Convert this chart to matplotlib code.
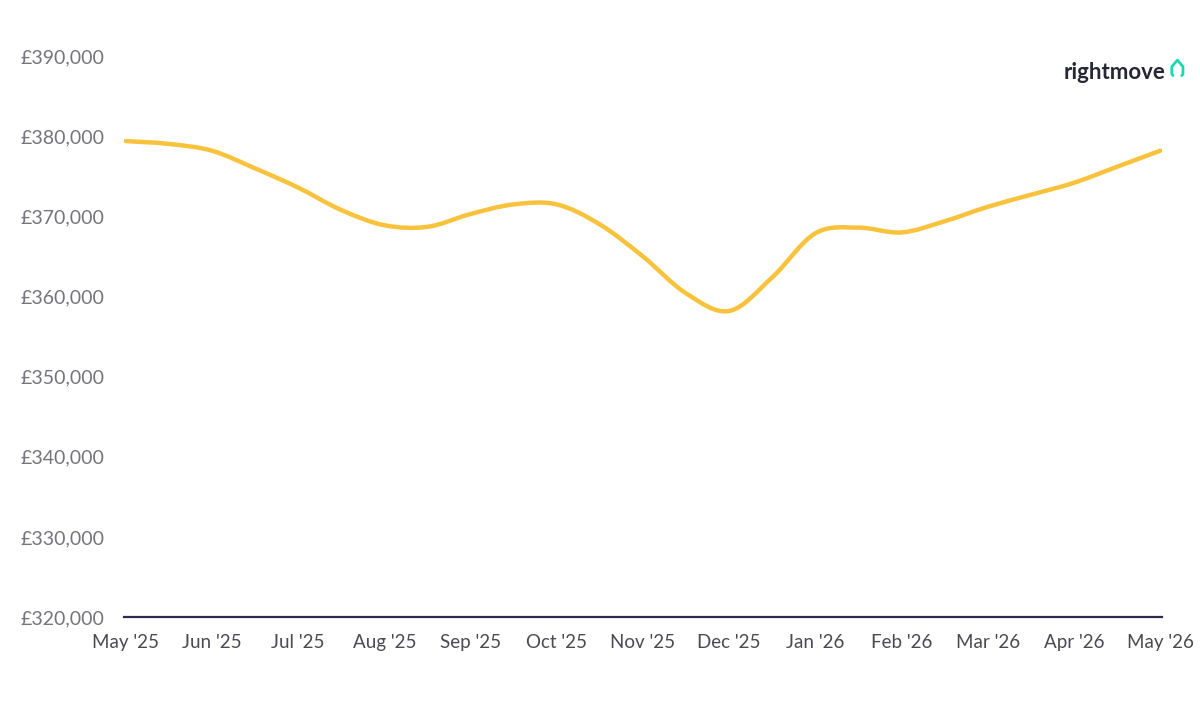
import matplotlib
matplotlib.use('Agg')
import matplotlib.pyplot as plt
import numpy as np
from matplotlib.path import Path
from matplotlib.patches import PathPatch
from matplotlib.lines import Line2D
import matplotlib.ticker as ticker

# Average asking price at half-month steps
month_pos = [0.0, 0.5, 1.0, 1.5, 2.0, 2.5, 3.0, 3.5, 4.0, 4.5, 5.0, 5.5, 6.0,
             6.5, 7.0, 7.5, 8.0, 8.5, 9.0, 9.5, 10.0, 10.5, 11.0, 11.5, 12.0]
prices = [379400, 379050, 378200, 376000, 373600, 370800, 368900, 368700,
          370300, 371500, 371500, 369000, 365000, 360400, 358200, 362400,
          367900, 368600, 368000, 369400, 371200, 372700, 374200, 376200,
          378200]

month_labels = ["May '25", "Jun '25", "Jul '25", "Aug '25", "Sep '25", "Oct '25",
                "Nov '25", "Dec '25", "Jan '26", "Feb '26", "Mar '26", "Apr '26",
                "May '26"]
y_ticks = [320000, 330000, 340000, 350000, 360000, 370000, 380000, 390000]

plt.rcParams['font.family'] = ['Lato', 'DejaVu Sans']

fig = plt.figure(figsize=(12, 7.2), dpi=100)
ax = fig.add_axes([0.1033, 0.143, 0.865, 0.779])

# smooth spline (Catmull-Rom -> cubic Bezier) through the read points
pts = np.column_stack([month_pos, prices]).astype(float)
verts = [pts[0]]
codes = [Path.MOVETO]
n = len(pts)
for i in range(n - 1):
    p0 = pts[i - 1] if i > 0 else pts[i]
    p1 = pts[i]
    p2 = pts[i + 1]
    p3 = pts[i + 2] if i + 2 < n else pts[i + 1]
    verts += [p1 + (p2 - p0) / 6, p2 - (p3 - p1) / 6, p2]
    codes += [Path.CURVE4] * 3
curve = PathPatch(Path(verts, codes), facecolor='none', edgecolor='#F8C23D',
                  lw=3.2, capstyle='round', joinstyle='round')
ax.add_patch(curve)

ax.set_xlim(-0.02, 12.02)
ax.set_ylim(320000, 390000)
ax.set_xticks(np.arange(len(month_labels)))
ax.set_xticklabels(month_labels)
ax.set_yticks(y_ticks)
ax.yaxis.set_major_formatter(ticker.FuncFormatter(lambda v, _: f'£{v:,.0f}'))

for s in ['top', 'right', 'left']:
    ax.spines[s].set_visible(False)
ax.spines['bottom'].set_color('#2D2B4A')
ax.spines['bottom'].set_linewidth(1.6)

ax.tick_params(axis='x', length=0, pad=12, labelsize=13.5, labelcolor='#4A4A52')
ax.tick_params(axis='y', length=0, pad=14, labelsize=14, labelcolor='#74747C')

# rightmove logo
fig.text(0.971, 0.899, 'rightmove', ha='right', va='center', fontsize=16,
         fontweight='bold', color='#262637')
house_x = [0.9775, 0.9765, 0.9765, 0.9812, 0.9858, 0.9858, 0.9848]
house_y = [0.895, 0.897, 0.9075, 0.9165, 0.9075, 0.897, 0.895]
fig.add_artist(Line2D(house_x, house_y, transform=fig.transFigure,
                      color='#1FD8B0', lw=2, solid_joinstyle='round',
                      solid_capstyle='round'))

fig.savefig('out.png', dpi=100, facecolor='white')
